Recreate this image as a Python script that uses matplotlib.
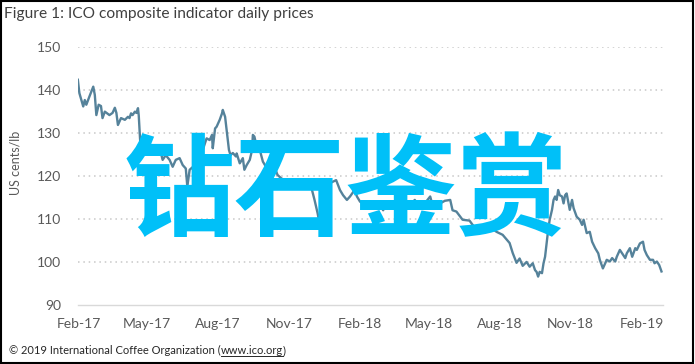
import pandas as pd
import matplotlib
matplotlib.use('Agg')
import matplotlib.pyplot as plt
import matplotlib.dates as mdates
from matplotlib.lines import Line2D
from matplotlib.patches import Rectangle

# ICO composite indicator (days after 1 Feb 2017, US cents/lb)
days = [-1, 1, 6, 8, 10, 14, 19, 21, 23, 26, 29, 31, 34, 40, 44, 47, 49, 51, 55, 60,
        64, 66, 68, 70, 73, 75, 77, 78, 80, 83, 87, 90, 93, 99, 103, 105, 109, 113, 118, 122,
        126, 131, 135, 139, 141, 144, 151, 157, 161, 166, 170, 173, 174, 177, 179, 183, 186, 187, 190, 192,
        195, 197, 200, 204, 205, 209, 213, 215, 218, 222, 225, 226, 228, 231, 235, 239, 243, 245, 248, 251,
        254, 258, 263, 267, 271, 274, 278, 280, 287, 291, 296, 300, 301, 306, 310, 313, 317, 321, 326, 334,
        339, 343, 348, 352, 358, 361, 365, 369, 373, 382, 386, 391, 395, 397, 404, 410, 417, 423, 430, 436,
        443, 449, 456, 459, 465, 469, 475, 482, 485, 490, 495, 498, 507, 516, 520, 524, 533, 542, 550, 559,
        563, 568, 572, 576, 581, 585, 589, 592, 594, 596, 598, 601, 603, 605, 607, 609, 611, 614, 616, 618,
        620, 622, 624, 627, 629, 631, 633, 637, 640, 642, 646, 650, 653, 655, 657, 659, 663, 666, 670, 674,
        676, 680, 683, 685, 689, 692, 696, 698, 702, 705, 709, 711, 715, 718, 722, 724, 728, 732, 734, 737,
        741, 745, 747, 750, 753, 756]
price = [142.3, 139.2, 136.1, 137.6, 136.5, 138.4, 140.7, 138.8, 134.1, 136.5, 136.2, 133.4, 134.9, 134.1, 134.6, 135.8, 134.6, 131.8, 133.4, 133.0,
         133.7, 133.4, 134.5, 134.1, 134.9, 134.6, 135.7, 134.0, 127.6, 128.0, 127.2, 128.7, 126.8, 126.0, 125.6, 126.5, 123.7, 124.8, 123.7, 122.1,
         123.7, 124.1, 122.5, 121.7, 117.5, 121.4, 122.5, 124.4, 126.0, 128.7, 128.3, 129.5, 126.4, 131.0, 131.4, 133.0, 134.5, 135.3, 133.7, 130.7,
         126.0, 124.8, 125.3, 124.5, 125.2, 122.9, 124.1, 121.4, 122.5, 123.7, 126.0, 129.5, 129.1, 126.8, 126.0, 123.3, 122.1, 121.0, 121.4, 123.3,
         122.1, 120.2, 119.4, 119.0, 117.9, 118.7, 117.5, 118.3, 118.7, 117.5, 117.1, 119.0, 117.9, 114.4, 111.3, 108.5, 115.0, 117.5, 118.3, 119.0,
         116.7, 115.5, 114.4, 115.2, 116.7, 115.2, 114.0, 113.6, 113.4, 112.8, 113.6, 113.2, 112.0, 112.8, 113.6, 112.5, 113.6, 112.5, 113.2, 114.4,
         112.5, 113.6, 115.2, 113.2, 114.0, 113.6, 114.2, 114.4, 112.0, 111.7, 110.5, 109.8, 109.6, 107.4, 107.4, 107.0, 108.2, 107.0, 106.3, 104.4,
         102.1, 99.8, 100.8, 99.1, 100.0, 98.9, 99.7, 98.1, 97.7, 96.6, 97.7, 97.4, 99.7, 101.2, 104.3, 107.4, 109.8, 112.1, 114.4, 115.2,
         114.4, 116.7, 115.5, 115.2, 113.6, 115.5, 115.9, 112.1, 114.4, 112.5, 110.5, 109.8, 108.6, 109.8, 108.2, 106.7, 107.0, 104.7, 103.2, 102.0,
         100.5, 98.5, 99.7, 100.5, 100.1, 100.9, 100.1, 101.2, 102.8, 102.0, 100.9, 102.0, 103.2, 101.2, 103.2, 102.8, 104.3, 104.7, 102.8, 101.6,
         100.5, 100.5, 99.7, 100.1, 99.3, 97.8]

y_ticks = [90, 100, 110, 120, 130, 140, 150]
x_ticks = ['2017-02-01', '2017-05-01', '2017-08-01', '2017-11-01', '2018-02-01',
           '2018-05-01', '2018-08-01', '2018-11-01', '2019-02-01']

start = pd.Timestamp('2017-02-01')
dates = start + pd.to_timedelta(days, unit='D')

plt.rcParams['font.family'] = ['Lato', 'DejaVu Sans']

fig = plt.figure(figsize=(6.95, 3.64), dpi=100)
ax = fig.add_axes([0.112, 0.162, 0.842, 0.710])

ax.plot(dates, price, color='#55829a', linewidth=1.7, solid_joinstyle='round')

ax.set_ylim(90, 150)
ax.set_yticks(y_ticks)
ax.set_xlim(pd.Timestamp('2017-01-31'), pd.Timestamp('2019-03-01'))
ax.set_xticks(pd.to_datetime(x_ticks))
ax.xaxis.set_major_formatter(mdates.DateFormatter('%b-%y'))

for v in y_ticks[1:]:
    ax.axhline(v, color='#c8c8c8', linewidth=1.1, linestyle=(0, (1, 2.5)), zorder=0)

for s in ['top', 'right', 'left']:
    ax.spines[s].set_visible(False)
ax.spines['bottom'].set_color('#d9d9d9')
ax.spines['bottom'].set_linewidth(1.0)

ax.tick_params(axis='x', length=0, pad=9, labelsize=10, labelcolor='#595959')
ax.tick_params(axis='y', length=0, pad=12, labelsize=10, labelcolor='#595959')

fig.text(0.022, 1 - 163 / 364, 'US cents/lb', rotation=90, ha='center', va='center',
         fontsize=9, color='#595959')

fig.text(0.006, 1 - 14 / 364, 'Figure 1: ICO composite indicator daily prices',
         ha='left', va='center', fontsize=11.2, color='#404040')

# footer with underlined link
fy = 1 - 354 / 364
t1 = fig.text(0.013, fy, '\u00a9 2019 International Coffee Organization (', ha='left',
              va='baseline', fontsize=8, color='#262626')
fig.canvas.draw()
r = fig.canvas.get_renderer()
b1 = t1.get_window_extent(r).transformed(fig.transFigure.inverted())
t2 = fig.text(b1.x1, fy, 'www.ico.org', ha='left', va='baseline', fontsize=8, color='#262626')
b2 = t2.get_window_extent(r).transformed(fig.transFigure.inverted())
fig.text(b2.x1, fy, ')', ha='left', va='baseline', fontsize=8, color='#262626')
fig.add_artist(Line2D([b2.x0, b2.x1], [fy - 0.006, fy - 0.006], color='#262626',
                      linewidth=0.7, transform=fig.transFigure))

# watermark
fig.text(0.497, 1 - 195 / 364, '钻石鉴赏', ha='center', va='center', fontsize=80,
         color='#00c0f8', family=['Noto Sans CJK SC', 'DejaVu Sans'], fontweight='bold',
         zorder=10)

fig.add_artist(Rectangle((0.001, 0.002), 0.996, 0.996, fill=False, edgecolor='black',
                         linewidth=1.5, transform=fig.transFigure))

fig.savefig('out.png', dpi=100)
